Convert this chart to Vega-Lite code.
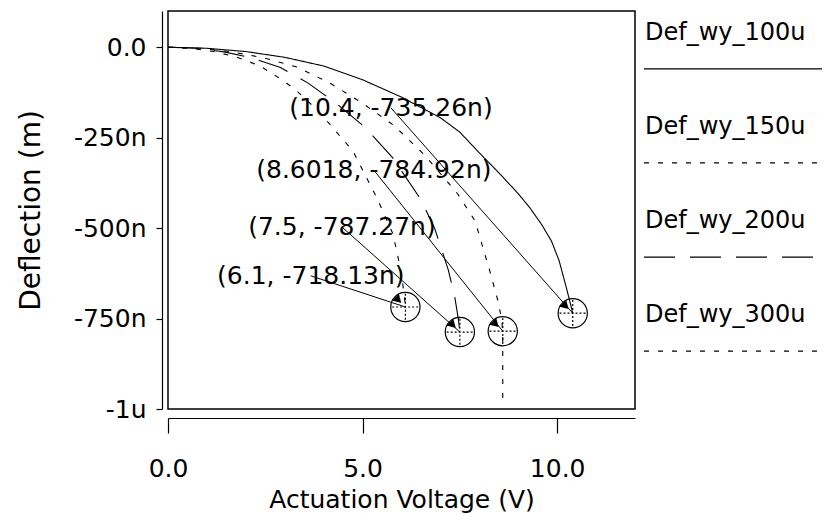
{
  "$schema": "https://vega.github.io/schema/vega-lite/v6.json",
  "padding": {"left": 16, "top": 10, "right": 0, "bottom": 0},
  "background": "white",
  "config": {
    "font": "DejaVu Sans",
    "view": {"stroke": null},
    "axis": {
      "domainColor": "black", "tickColor": "black", "labelColor": "black", "titleColor": "black",
      "labelFont": "DejaVu Sans", "titleFont": "DejaVu Sans", "labelFontSize": 25, "titleFontSize": 25,
      "titleFontWeight": "normal", "grid": false, "domainWidth": 1.2, "tickWidth": 1.2
    }
  },
  "datasets": {
    "curves": [
      {"series": "Def_wy_100u", "v": 0, "d": 0},
      {"series": "Def_wy_100u", "v": 1, "d": -3},
      {"series": "Def_wy_100u", "v": 2, "d": -12},
      {"series": "Def_wy_100u", "v": 3, "d": -28},
      {"series": "Def_wy_100u", "v": 4, "d": -52},
      {"series": "Def_wy_100u", "v": 5, "d": -90},
      {"series": "Def_wy_100u", "v": 6, "d": -138},
      {"series": "Def_wy_100u", "v": 7, "d": -195},
      {"series": "Def_wy_100u", "v": 7.5, "d": -235},
      {"series": "Def_wy_100u", "v": 8, "d": -292},
      {"series": "Def_wy_100u", "v": 8.5, "d": -347},
      {"series": "Def_wy_100u", "v": 9, "d": -405},
      {"series": "Def_wy_100u", "v": 9.3, "d": -444},
      {"series": "Def_wy_100u", "v": 9.6, "d": -490},
      {"series": "Def_wy_100u", "v": 9.85, "d": -535},
      {"series": "Def_wy_100u", "v": 10.05, "d": -590},
      {"series": "Def_wy_100u", "v": 10.2, "d": -650},
      {"series": "Def_wy_100u", "v": 10.32, "d": -700},
      {"series": "Def_wy_100u", "v": 10.4, "d": -735.26},
      {"series": "Def_wy_150u", "v": 0, "d": 0},
      {"series": "Def_wy_150u", "v": 0.83, "d": -3},
      {"series": "Def_wy_150u", "v": 1.65, "d": -13},
      {"series": "Def_wy_150u", "v": 2.48, "d": -30},
      {"series": "Def_wy_150u", "v": 3.31, "d": -55},
      {"series": "Def_wy_150u", "v": 4.14, "d": -98},
      {"series": "Def_wy_150u", "v": 4.96, "d": -152},
      {"series": "Def_wy_150u", "v": 5.79, "d": -215},
      {"series": "Def_wy_150u", "v": 6.61, "d": -300},
      {"series": "Def_wy_150u", "v": 7.44, "d": -405},
      {"series": "Def_wy_150u", "v": 7.89, "d": -480},
      {"series": "Def_wy_150u", "v": 8.27, "d": -619},
      {"series": "Def_wy_150u", "v": 8.48, "d": -702},
      {"series": "Def_wy_150u", "v": 8.57, "d": -750},
      {"series": "Def_wy_150u", "v": 8.6018, "d": -784.92},
      {"series": "Def_wy_150u", "v": 8.6018, "d": -990},
      {"series": "Def_wy_200u", "v": 0, "d": 0},
      {"series": "Def_wy_200u", "v": 0.72, "d": -3},
      {"series": "Def_wy_200u", "v": 1.44, "d": -13},
      {"series": "Def_wy_200u", "v": 2.16, "d": -30},
      {"series": "Def_wy_200u", "v": 2.89, "d": -56},
      {"series": "Def_wy_200u", "v": 3.61, "d": -100},
      {"series": "Def_wy_200u", "v": 4.33, "d": -156},
      {"series": "Def_wy_200u", "v": 5.05, "d": -220},
      {"series": "Def_wy_200u", "v": 5.77, "d": -305},
      {"series": "Def_wy_200u", "v": 6.49, "d": -420},
      {"series": "Def_wy_200u", "v": 6.85, "d": -500},
      {"series": "Def_wy_200u", "v": 7.2, "d": -615},
      {"series": "Def_wy_200u", "v": 7.36, "d": -685},
      {"series": "Def_wy_200u", "v": 7.46, "d": -750},
      {"series": "Def_wy_200u", "v": 7.5, "d": -787.27},
      {"series": "Def_wy_300u", "v": 0, "d": 0},
      {"series": "Def_wy_300u", "v": 0.59, "d": -3},
      {"series": "Def_wy_300u", "v": 1.17, "d": -12},
      {"series": "Def_wy_300u", "v": 1.76, "d": -27},
      {"series": "Def_wy_300u", "v": 2.35, "d": -51},
      {"series": "Def_wy_300u", "v": 2.93, "d": -90},
      {"series": "Def_wy_300u", "v": 3.31, "d": -121},
      {"series": "Def_wy_300u", "v": 3.8, "d": -170},
      {"series": "Def_wy_300u", "v": 4.24, "d": -223},
      {"series": "Def_wy_300u", "v": 4.75, "d": -287},
      {"series": "Def_wy_300u", "v": 5.37, "d": -417},
      {"series": "Def_wy_300u", "v": 5.78, "d": -516},
      {"series": "Def_wy_300u", "v": 5.98, "d": -615},
      {"series": "Def_wy_300u", "v": 6.07, "d": -684},
      {"series": "Def_wy_300u", "v": 6.1, "d": -718.13}
    ],
    "markers": [
      {"v": 10.4, "d": -735.26, "label": "(10.4, -735.26n)", "lv": 5.73, "ld": -168},
      {"v": 8.6018, "d": -784.92, "label": "(8.6018, -784.92n)", "lv": 5.29, "ld": -340},
      {"v": 7.5, "d": -787.27, "label": "(7.5, -787.27n)", "lv": 4.47, "ld": -497},
      {"v": 6.1, "d": -718.13, "label": "(6.1, -718.13n)", "lv": 3.67, "ld": -632}
    ],
    "legend": [
      {"series": "Def_wy_100u"},
      {"series": "Def_wy_150u"},
      {"series": "Def_wy_200u"},
      {"series": "Def_wy_300u"}
    ]
  },
  "spacing": 7,
  "hconcat": [
    {
      "width": 467,
      "height": 398,
      "view": {"stroke": "black", "strokeWidth": 1.5},
      "layer": [
        {
          "data": {"name": "curves"},
          "mark": {"type": "line", "color": "black", "strokeWidth": 1.1, "clip": true},
          "encoding": {
            "x": {
              "field": "v", "type": "quantitative",
              "scale": {"domain": [0, 12], "nice": false, "zero": false},
              "axis": {"values": [0, 5, 10], "format": ".1f", "offset": 9, "tickSize": 15, "labelPadding": 23, "titlePadding": 6, "labelFlush": false, "labelOverlap": false},
              "title": "Actuation Voltage (V)"
            },
            "y": {
              "field": "d", "type": "quantitative",
              "scale": {"domain": [-1000, 100], "nice": false, "zero": false},
              "axis": {
                "values": [0, -250, -500, -750, -1000],
                "labelExpr": "datum.value == 0 ? '0.0' : (datum.value == -1000 ? '-1u' : datum.value + 'n')",
                "offset": 6, "tickSize": 6, "labelPadding": 10, "titleFontSize": 28, "titlePadding": 28, "labelOverlap": false
              },
              "title": "Deflection (m)"
            },
            "strokeDash": {
              "field": "series", "type": "nominal",
              "scale": {"domain": ["Def_wy_100u", "Def_wy_150u", "Def_wy_200u", "Def_wy_300u"], "range": [[1, 0], [5, 9], [31, 15], [5, 9]]},
              "legend": null
            },
            "order": {"field": "d", "sort": "descending"}
          }
        },
        {
          "data": {"name": "markers"},
          "mark": {"type": "rule", "color": "black", "strokeWidth": 1},
          "encoding": {
            "x": {"field": "lv", "type": "quantitative"},
            "y": {"field": "ld", "type": "quantitative"},
            "x2": {"field": "v"},
            "y2": {"field": "d"}
          }
        },
        {
          "data": {"name": "markers"},
          "mark": {"type": "point", "shape": "circle", "size": 855, "filled": false, "stroke": "black", "strokeWidth": 1.2, "opacity": 1},
          "encoding": {
            "x": {"field": "v", "type": "quantitative"},
            "y": {"field": "d", "type": "quantitative"}
          }
        },
        {
          "data": {"name": "markers"},
          "mark": {"type": "point", "shape": "M-1,0L1,0M0,-1L0,1", "size": 700, "filled": false, "stroke": "black", "strokeWidth": 1.2, "strokeDash": [2, 2], "opacity": 1},
          "encoding": {
            "x": {"field": "v", "type": "quantitative"},
            "y": {"field": "d", "type": "quantitative"}
          }
        },
        {
          "data": {"name": "markers"},
          "mark": {"type": "point", "shape": "triangle-up", "size": 90, "filled": true, "color": "black", "opacity": 1, "angle": 135, "xOffset": -7, "yOffset": -7},
          "encoding": {
            "x": {"field": "v", "type": "quantitative"},
            "y": {"field": "d", "type": "quantitative"}
          }
        },
        {
          "data": {"name": "markers"},
          "mark": {"type": "text", "align": "center", "baseline": "middle", "fontSize": 25, "color": "black", "font": "DejaVu Sans"},
          "encoding": {
            "x": {"field": "lv", "type": "quantitative"},
            "y": {"field": "ld", "type": "quantitative"},
            "text": {"field": "label"}
          }
        }
      ]
    },
    {
      "width": 178,
      "height": 398,
      "data": {"name": "legend"},
      "layer": [
        {
          "mark": {"type": "rule", "color": "black", "strokeWidth": 1.2, "strokeDashOffset": 37},
          "encoding": {
            "y": {"field": "series", "type": "nominal", "scale": {"type": "point", "padding": 0.615, "domain": ["Def_wy_100u", "Def_wy_150u", "Def_wy_200u", "Def_wy_300u"]}, "axis": null},
            "strokeDash": {
              "field": "series", "type": "nominal",
              "scale": {"domain": ["Def_wy_100u", "Def_wy_150u", "Def_wy_200u", "Def_wy_300u"], "range": [[1, 0], [5, 9], [31, 15], [5, 9]]},
              "legend": null
            }
          }
        },
        {
          "mark": {"type": "text", "align": "left", "baseline": "alphabetic", "dy": -29, "dx": 1, "x": 0, "fontSize": 24, "color": "black", "font": "DejaVu Sans"},
          "encoding": {
            "y": {"field": "series", "type": "nominal", "scale": {"type": "point", "padding": 0.615, "domain": ["Def_wy_100u", "Def_wy_150u", "Def_wy_200u", "Def_wy_300u"]}, "axis": null},
            "text": {"field": "series"}
          }
        }
      ]
    }
  ]
}
